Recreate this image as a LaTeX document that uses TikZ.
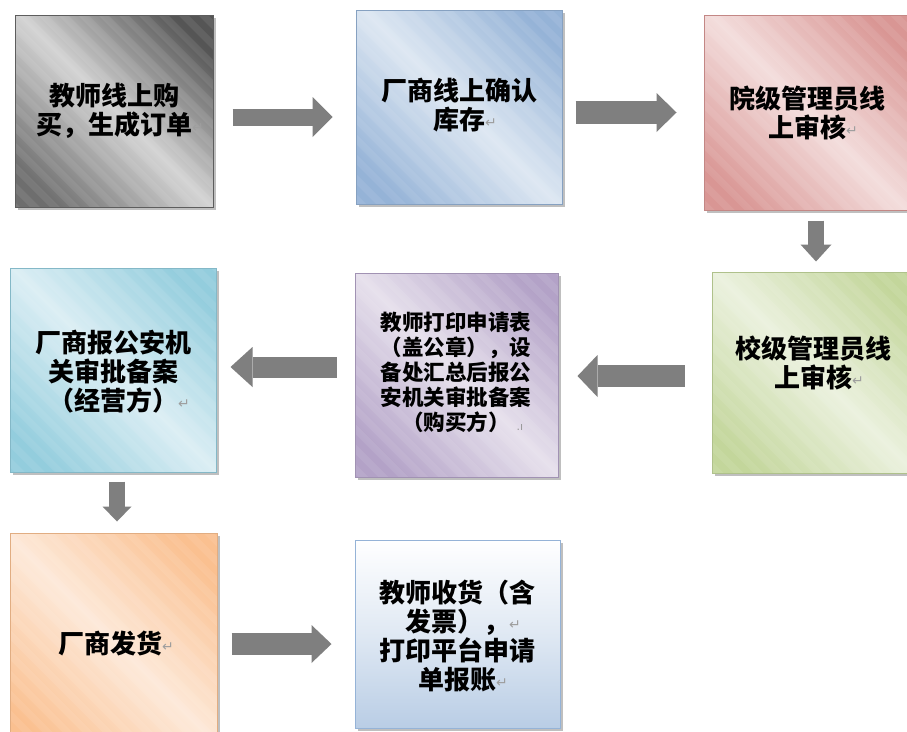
\documentclass[tikz,border=0pt]{standalone}
\usepackage{fontspec}
\newfontfamily\cjk{Noto Sans CJK SC}
\newfontfamily\dejavu{DejaVu Sans}
\usetikzlibrary{calc,arrows.meta,shadows}

\definecolor{agray}{HTML}{7F7F7F}
\definecolor{gA}{HTML}{6E6E6E}\definecolor{gB}{HTML}{D3D3D3}\definecolor{gC}{HTML}{555555}
\definecolor{bA}{HTML}{95B3D7}\definecolor{bB}{HTML}{DDE7F2}
\definecolor{rA}{HTML}{D99694}\definecolor{rB}{HTML}{F3DDDC}
\definecolor{vA}{HTML}{C3D69B}\definecolor{vB}{HTML}{EBF1DE}
\definecolor{pA}{HTML}{B3A2C7}\definecolor{pB}{HTML}{E6E0EC}
\definecolor{cA}{HTML}{93CDDD}\definecolor{cB}{HTML}{DBEEF4}
\definecolor{oA}{HTML}{FAC090}\definecolor{oB}{HTML}{FDE9D9}
\definecolor{eA}{HTML}{B9CDE5}

\newcommand\mkdiag[4]{\pgfdeclarehorizontalshading{#1}{100bp}{color(0bp)=(#2); color(22bp)=(#2); color(50bp)=(#3); color(78bp)=(#4); color(100bp)=(#4)}}
\mkdiag{sgray}{gA}{gB}{gC}
\mkdiag{sblue}{bA}{bB}{bA}
\mkdiag{sred}{rA}{rB}{rA}
\mkdiag{sgreen}{vA}{vB}{vA}
\mkdiag{spurple}{pA}{pB}{pA}
\mkdiag{scyan}{cA}{cB}{cA}
\mkdiag{sorange}{oA}{oB}{oA}

\newcommand\pmark{\rlap{\dejavu\mdseries\fontsize{14}{14}\selectfont\color{black!38}\raisebox{2pt}{↵}}}
\newcommand\lmark{\rlap{\dejavu\mdseries\fontsize{11}{11}\selectfont\color{black!40}\ \ .ı}}

\tikzset{
  stripes/.style={path picture={
    \foreach \d in {-420,-400,...,420}{
      \fill[white,opacity=#1] ($(path picture bounding box.center)+(\d,0)+(-260,-260)$)
        -- ++(520,520) -- ++(10,0) -- ++(-520,-520) -- cycle;}}},
  box/.style={rectangle, inner sep=0pt, line width=1pt, draw=#1,
    drop shadow={shadow xshift=3pt, shadow yshift=-3pt, fill=black, opacity=0.25}},
  dbox/.style 2 args={box=#2, shading=#1, shading angle=45, stripes=0.08},
  txt/.style={align=center, inner sep=0pt,
    font=\cjk\bfseries\fontsize{26}{29}\selectfont},
  stxt/.style={align=center, inner sep=0pt,
    font=\cjk\bfseries\fontsize{21.5}{25}\selectfont},
  barrow/.style n args={3}{draw=agray, line width=#1pt,
    -{Triangle[length=#3pt, width=#2pt, line width=0pt]}}
}

\begin{document}
\begin{tikzpicture}[x=1pt,y=-1pt]
\useasboundingbox (0,0) rectangle (907,731);
\fill[white] (0,0) rectangle (907,731);

% boxes
\node[dbox={sgray}{gA!85!black}, minimum width=198pt, minimum height=192pt] (b1) at (114,111) {};
\node[dbox={sblue}{bA!90!black}, minimum width=206pt, minimum height=194pt] (b2) at (459,107) {};
\node[dbox={sred}{rA!90!black}, minimum width=206pt, minimum height=195pt] (b3) at (807,112.5) {};
\node[dbox={scyan}{cA!90!black}, minimum width=206pt, minimum height=204pt] (b4) at (113,370) {};
\node[dbox={spurple}{pA!90!black}, minimum width=203pt, minimum height=204pt] (b5) at (456.5,375) {};
\node[dbox={sgreen}{vA!90!black}, minimum width=202pt, minimum height=201pt] (b6) at (813,372.5) {};
\node[dbox={sorange}{oA!90!black}, minimum width=207pt, minimum height=220pt] (b7) at (113.5,643) {};
\node[box=bA, top color=white, bottom color=eA, middle color=white!55!eA, minimum width=205pt, minimum height=188pt] (b8) at (457.5,634) {};

% texts
\node[txt] (t1) at (114,111) {教师线上购\\买，生成订单\pmark};
\node[txt] (t2) at (459,105) {厂商线上确认\\库存\pmark};
\node[txt] (t3) at (807,112.5) {院级管理员线\\上审核\pmark};
\node[txt] (t4) at (113,372) {厂商报公安机\\关审批备案\\（经营方）\pmark};
\node[stxt] (t5) at (456,372.5) {教师打印申请表\\（盖公章），设\\备处汇总后报公\\安机关审批备案\\（购买方）\lmark};
\node[txt] (t6) at (813,363) {校级管理员线\\上审核\pmark};
\node[txt] (t7) at (110,643) {厂商发货\pmark};
\node[txt] (t8) at (457,636) {教师收货（含\\发票），\pmark\\打印平台申请\\单报账\pmark};

% block arrows
\draw[barrow={17}{40}{20}] ($(b1.east)+(19,6)$) -- ($(b2.west)+(-23,10)$);
\draw[barrow={23}{39}{20}] ($(b2.east)+(13,5.5)$) -- ($(b3.west)+(-27,0)$);
\draw[barrow={16}{31}{17}] ($(b3.south)+(9,10)$) -- ($(b6.north)+(3,-10)$);
\draw[barrow={22}{42}{20}] ($(b6.west)+(-27,3.5)$) -- ($(b5.east)+(19,1)$);
\draw[barrow={21}{40}{22}] ($(b5.west)+(-18,-8)$) -- ($(b4.east)+(14,-3)$);
\draw[barrow={16}{29}{15}] ($(b4.south)+(4,9)$) -- ($(b7.north)+(3.5,-11)$);
\draw[barrow={22}{38}{20}] ($(b7.east)+(14,1)$) -- ($(b8.west)+(-23,10)$);
\end{tikzpicture}
\end{document}
